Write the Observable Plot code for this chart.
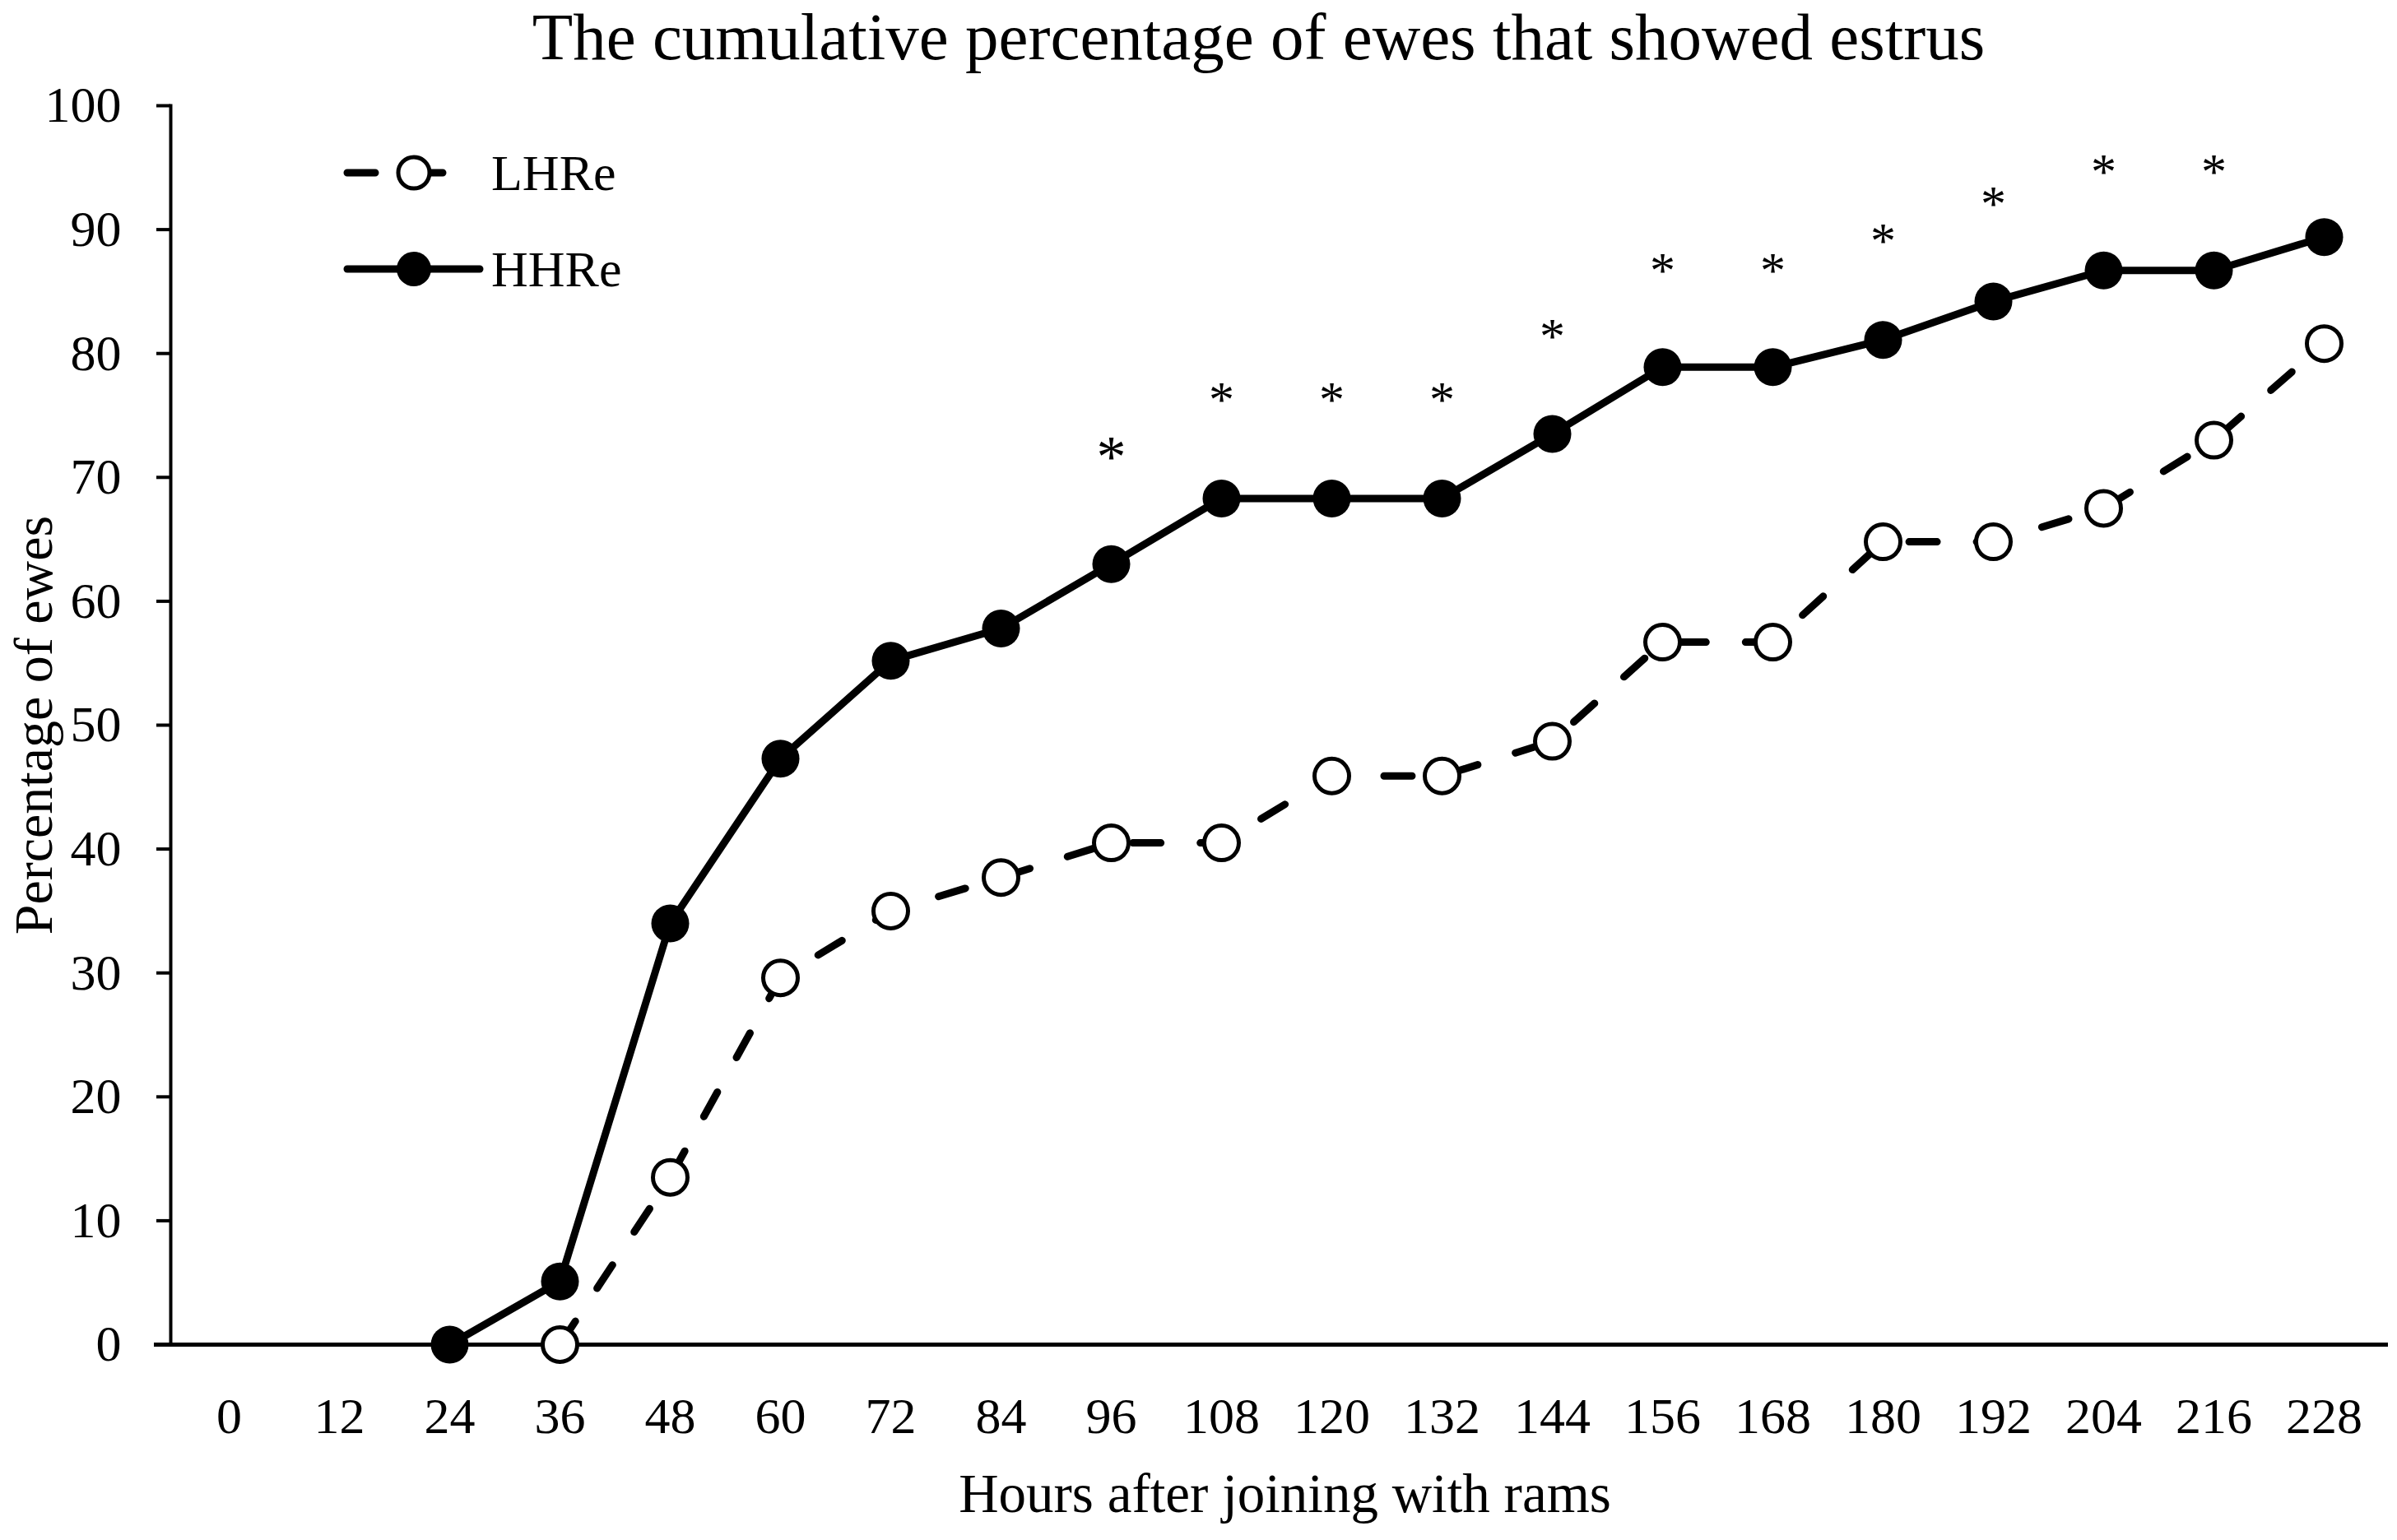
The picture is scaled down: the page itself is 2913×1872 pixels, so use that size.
<!DOCTYPE html>
<html>
<head>
<meta charset="utf-8">
<script src="https://cdn.jsdelivr.net/npm/d3@7"></script>
<script src="https://cdn.jsdelivr.net/npm/@observablehq/plot@0.6"></script>
<style>
  body { margin: 0; background: #fff; font-family: "Liberation Serif", serif; }
  #wrap { position: relative; width: 2913px; height: 1872px; background: #fff; }
  #title { width: 2913px; height: 100px; line-height: 91px; font-size: 81px; text-align: center;
           padding-left: 146px; box-sizing: border-box; color: #000; white-space: nowrap; }
  #legend { position: absolute; left: 0; top: 0; pointer-events: none; }
</style>
</head>
<body>
<div id="wrap">
  <div id="title"></div>
  <div id="chart"></div>
  <svg id="legend" width="2913" height="600"></svg>
</div>
<script>
// ---- data ----
const titleText = "The cumulative percentage of ewes that showed estrus";
const xLabel = "Hours after joining with rams";
const yLabel = "Percentage of ewes";
const seriesNames = ["LHRe", "HHRe"];
const hours = [0, 12, 24, 36, 48, 60, 72, 84, 96, 108, 120, 132, 144, 156, 168, 180, 192, 204, 216, 228];
const lhre = [null, null, null, 0, 13.5, 29.6, 35.0, 37.7, 40.5, 40.5, 45.9, 45.9, 48.7, 56.7, 56.7, 64.8, 64.8, 67.5, 73.0, 80.8];
const hhre = [null, null, 0, 5.1, 34.0, 47.3, 55.2, 57.8, 63.0, 68.3, 68.3, 68.3, 73.5, 78.9, 78.9, 81.1, 84.2, 86.7, 86.7, 89.4];
const sigHours = [96, 108, 120, 132, 144, 156, 168, 180, 192, 204, 216];
const sigLevel = [72.5, 77.0, 77.0, 77.0, 82.1, 87.4, 87.4, 89.8, 92.8, 95.4, 95.4];
const yTicks = [0, 10, 20, 30, 40, 50, 60, 70, 80, 90, 100];

// ---- build ----
document.getElementById("title").textContent = titleText;

const rowsL = hours.map((h, i) => ({hour: h, v: lhre[i]})).filter(d => d.v != null);
const rowsH = hours.map((h, i) => ({hour: h, v: hhre[i]})).filter(d => d.v != null);
const sig = sigHours.map((h, i) => ({hour: h, level: sigLevel[i]}));

const font = "'Liberation Serif', 'Times New Roman', serif";
const dash = "34,48";

const chart = Plot.plot({
  width: 2913,
  height: 1772,
  marginLeft: 207,
  marginRight: 18,
  marginTop: 28,
  marginBottom: 238,
  style: {fontFamily: font, background: "white", color: "black", overflow: "visible"},
  x: {type: "point", domain: hours, padding: 0.5, axis: null},
  y: {domain: [0, 100], axis: null},
  marks: [
    Plot.frame({anchor: "left", stroke: "black", strokeWidth: 4}),
    Plot.ruleY([0], {stroke: "black", strokeWidth: 5, insetLeft: -20, insetRight: -7}),
    Plot.axisY(yTicks, {tickSize: 17, tickPadding: 43, fontSize: 62, strokeWidth: 4, label: null}),
    Plot.axisX({tickSize: 0, tickPadding: 63, fontSize: 62, label: null}),
    Plot.line(rowsL, {x: "hour", y: "v", stroke: "black", strokeWidth: 9, strokeDasharray: dash,
      strokeLinecap: "round", strokeLinejoin: "round"}),
    Plot.line(rowsH, {x: "hour", y: "v", stroke: "black", strokeWidth: 9,
      strokeLinecap: "round", strokeLinejoin: "round"}),
    Plot.dot(rowsL, {x: "hour", y: "v", r: 21, fill: "white", stroke: "black", strokeWidth: 5}),
    Plot.dot(rowsH, {x: "hour", y: "v", r: 23, fill: "black"}),
    Plot.text(sig.filter(d => d.hour === 96), {x: "hour", y: "level", text: () => "*", fontSize: 72, dy: 13}),
    Plot.text(sig.filter(d => d.hour !== 96), {x: "hour", y: "level", text: () => "*", fontSize: 62, dy: 11}),
    Plot.text([yLabel], {frameAnchor: "left", textAnchor: "middle", dx: -166, rotate: -90, fontSize: 66}),
    Plot.text([xLabel], {frameAnchor: "bottom", textAnchor: "middle", dy: 203, dx: 10, fontSize: 67})
  ]
});
document.getElementById("chart").appendChild(chart);

// ---- legend (overlay) ----
const leg = d3.select("#legend");
const legRows = [
  {name: seriesNames[0], y: 210, x2: 548, dashed: true},
  {name: seriesNames[1], y: 327, x2: 583, dashed: false}
];
legRows.forEach(r => {
  leg.append("line").attr("x1", 422).attr("x2", r.x2).attr("y1", r.y).attr("y2", r.y)
    .attr("stroke", "black").attr("stroke-width", 9).attr("stroke-linecap", "round")
    .attr("stroke-dasharray", r.dashed ? dash : null);
  leg.append("circle").attr("cx", 503).attr("cy", r.y).attr("r", r.dashed ? 19 : 21)
    .attr("fill", r.dashed ? "white" : "black").attr("stroke", "black").attr("stroke-width", r.dashed ? 5 : 0);
  leg.append("text").attr("x", 597).attr("y", r.y).attr("dy", "0.34em")
    .attr("font-family", font).attr("font-size", 62).attr("fill", "black").text(r.name);
});
</script>
</body>
</html>
